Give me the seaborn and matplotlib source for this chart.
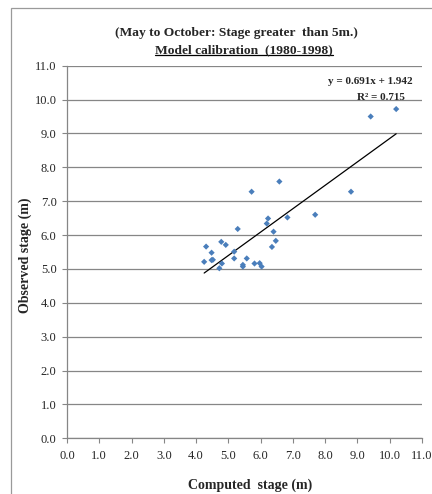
import matplotlib
matplotlib.use("Agg")
import matplotlib.pyplot as plt
import seaborn as sns
import pandas as pd
import numpy as np
from matplotlib.lines import Line2D
from matplotlib.patches import Rectangle

computed = [4.25, 4.31, 4.48, 4.48, 4.52, 4.72, 4.80, 4.78, 4.92, 5.18, 5.18, 5.29,
            5.45, 5.45, 5.57, 5.72, 5.81, 5.97, 6.03, 6.19, 6.23, 6.35, 6.40, 6.47,
            6.58, 6.83, 7.69, 8.80, 9.41, 10.2]
observed = [5.21, 5.66, 5.48, 5.26, 5.27, 5.02, 5.16, 5.80, 5.71, 5.51, 5.31, 6.18,
            5.12, 5.07, 5.31, 7.28, 5.16, 5.17, 5.07, 6.34, 6.49, 5.65, 6.10, 5.83,
            7.58, 6.52, 6.60, 7.28, 9.50, 9.72]
slope = 0.691
intercept = 1.942
r2 = 0.715
ticks = [0.0, 1.0, 2.0, 3.0, 4.0, 5.0, 6.0, 7.0, 8.0, 9.0, 10.0, 11.0]
tick_labels = [f"{t:.1f}" for t in ticks]
title1 = "(May to October: Stage greater  than 5m.)"
title2 = "Model calibration  (1980-1998)"

sns.set_style("white")
plt.rcParams['font.family'] = ['Liberation Serif', 'DejaVu Serif']

W, H = 432, 494
fig = plt.figure(figsize=(W / 100, H / 100), dpi=100)
ax = fig.add_axes([67 / W, 1 - 438.3 / H, (422 - 67) / W, (438.3 - 65.7) / H])

df = pd.DataFrame({"computed": computed, "observed": observed})
sns.scatterplot(data=df, x="computed", y="observed", ax=ax, marker="D", s=10,
                color="#4A7EBB", edgecolor="none", linewidth=0, zorder=3)

xs = np.array([min(computed), max(computed)])
trend = pd.DataFrame({"x": xs, "y": slope * xs + intercept})
sns.lineplot(data=trend, x="x", y="y", ax=ax, color="black", linewidth=0.9, zorder=2)

ax.set_xlim(0, 11)
ax.set_ylim(0, 11)
ax.set_xticks(ticks)
ax.set_xticklabels(tick_labels)
ax.set_yticks(ticks)
ax.set_yticklabels(tick_labels)
ax.tick_params(axis="both", labelsize=9, length=3.5, width=0.8, color="#868686",
               direction="out", pad=4, bottom=True, left=True)
ax.tick_params(axis="x", pad=5)
ax.yaxis.grid(True, color="#868686", linewidth=0.9)
ax.xaxis.grid(False)
for s in ["top", "right"]:
    ax.spines[s].set_visible(False)
for s in ["left", "bottom"]:
    ax.spines[s].set_color("#868686")
    ax.spines[s].set_linewidth(0.9)

ax.set_xlabel("Computed  stage (m)", fontsize=10, fontweight="bold")
ax.set_ylabel("Observed stage (m)", fontsize=10, fontweight="bold")
ax.xaxis.set_label_coords((250 - 67) / 355, (438.3 - 479) / 372.6)
ax.yaxis.set_label_coords((32 - 67) / 355, 0.49)

fig.text(370 / W, 1 - 82 / H, f"y = {slope:.3f}x + {intercept:.3f}",
         ha="center", va="center", fontsize=8, fontweight="bold")
fig.text(381 / W, 1 - 97 / H, f"R² = {r2:.3f}",
         ha="center", va="center", fontsize=8, fontweight="bold")

fig.text(236 / W, 1 - 33 / H, title1, ha="center", va="center",
         fontsize=9.7, fontweight="bold")
t2 = fig.text(244 / W, 1 - 50 / H, title2, ha="center", va="center",
              fontsize=9.7, fontweight="bold")

# outer chart-area border
fig.patches.append(Rectangle((11 / W, -0.1), 1.2, 1 - 8 / H + 0.1,
                             transform=fig.transFigure, fill=False,
                             edgecolor="#9a9a9a", linewidth=0.9))

fig.canvas.draw()
bb = t2.get_window_extent()
yline = (bb.y0 + 1) / H
fig.lines.append(Line2D([bb.x0 / W, bb.x1 / W], [yline, yline],
                        transform=fig.transFigure, color="black", linewidth=0.9))

fig.savefig("out.png", dpi=100)
